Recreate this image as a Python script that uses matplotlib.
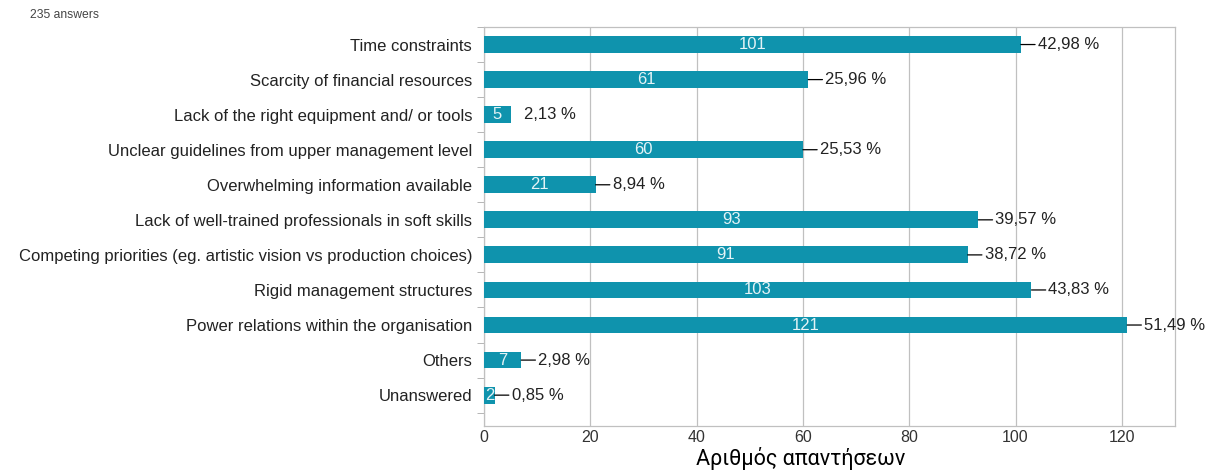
import matplotlib
matplotlib.use("Agg")
import matplotlib.pyplot as plt
import numpy as np

categories = [
    "Time constraints",
    "Scarcity of financial resources",
    "Lack of the right equipment and/ or tools",
    "Unclear guidelines from upper management level",
    "Overwhelming information available",
    "Lack of well-trained professionals in soft skills",
    "Competing priorities (eg. artistic vision vs production choices)",
    "Rigid management structures",
    "Power relations within the organisation",
    "Others",
    "Unanswered",
]
counts = [101, 61, 5, 60, 21, 93, 91, 103, 121, 7, 2]
percents = ["42,98 %", "25,96 %", "2,13 %", "25,53 %", "8,94 %", "39,57 %",
            "38,72 %", "43,83 %", "51,49 %", "2,98 %", "0,85 %"]
xticks = [0, 20, 40, 60, 80, 100, 120]
xlabel = "Αριθμός απαντήσεων"
note = "235 answers"

plt.rcParams['font.family'] = ['Liberation Sans', 'DejaVu Sans']

fig = plt.figure(figsize=(12.08, 4.71), dpi=100)
ax = fig.add_axes([484/1208, 1-426/471, (1175-484)/1208, (426-27)/471])

bar_color = "#0f93ad"
y = np.arange(len(categories))
ax.barh(y, counts, height=0.48, color=bar_color, zorder=3)

for yi, c, p in zip(y, counts, percents):
    ax.text(c/2, yi, str(c), color="#e4f3f6", ha="center", va="center",
            fontsize=12, zorder=4)
    if c == 5:
        ax.annotate(p, xy=(c, yi), xytext=(13, 0), textcoords="offset pixels",
                    ha="left", va="center", fontsize=12, color="#222222", zorder=4)
    else:
        ax.annotate(p, xy=(c, yi), xytext=(17, 0), textcoords="offset pixels",
                    ha="left", va="center", fontsize=12, color="#222222", zorder=4,
                    arrowprops=dict(arrowstyle="-", color="black", lw=0.9,
                                    shrinkA=0, shrinkB=0))

ax.set_xlim(0, 130)
ax.set_ylim(len(categories) - 1 + 0.88, -0.45)
ax.set_yticks(y)
ax.set_yticklabels(categories, fontsize=12, color="#222222")
ax.set_yticks(np.arange(-0.5, len(categories), 1), minor=True)
ax.tick_params(axis="y", which="major", length=0, pad=8.5)
ax.tick_params(axis="y", which="minor", length=5, color="#aaaaaa", direction="out")
ax.set_xticks(xticks)
ax.set_xticklabels([str(t) for t in xticks], fontsize=11.5, color="#333333")
ax.tick_params(axis="x", length=0, pad=3)
ax.grid(axis="x", color="#c0c0c0", lw=0.9, zorder=0)
for s in ax.spines.values():
    s.set_color("#c0c0c0")
    s.set_linewidth(0.9)

fig.text(801 / 1208, 1 - 458/471, xlabel,
         fontsize=15.5, color="black", family=["Roboto", "DejaVu Sans"],
         ha="center", va="center")

fig.text(30/1208, 1-15/471, note, fontsize=8.7, color="#444444", ha="left", va="center")

fig.savefig("out.png", dpi=100)
